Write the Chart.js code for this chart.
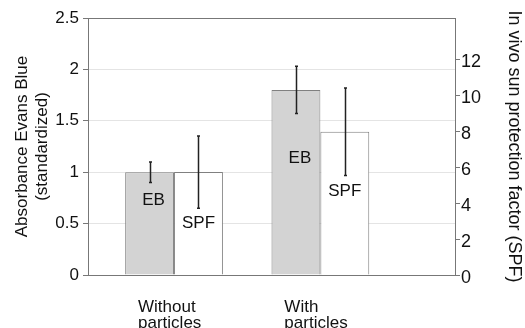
<!DOCTYPE html>
<html>
<head>
<meta charset="utf-8">
<script src="https://cdn.jsdelivr.net/npm/chart.js@4.4.1/dist/chart.umd.min.js"></script>
<style>
  html, body { margin: 0; padding: 0; background: #fff; }
</style>
</head>
<body>
<canvas id="chart" width="525" height="328"></canvas>
<script>
// Data
const groups = [['Without', 'particles'], ['With', 'particles']];
const groupPos = [0, 1];
const ebValues = [1, 1.8];
const ebErrors = [0.1, 0.23];
const spfValues = [5.73, 7.97];
const spfErrors = [2.01, 2.44];
const leftTicks = [0, 0.5, 1, 1.5, 2, 2.5];
const rightTicks = [0, 2, 4, 6, 8, 10, 12];
const ebLabelY = [0.73, 1.135];
const spfLabelY = [2.88, 4.64];

const FONT = "'Liberation Sans', Arial, sans-serif";
const AXIS = '#777';

// error bars + in-bar labels
const barExtras = {
    id: 'barExtras',
    afterDatasetsDraw(chart) {
        const ctx = chart.ctx;
        const sets = [
            { meta: chart.getDatasetMeta(0), vals: ebValues, errs: ebErrors, labY: ebLabelY, text: 'EB', scale: chart.scales.y, dx: 4 },
            { meta: chart.getDatasetMeta(1), vals: spfValues, errs: spfErrors, labY: spfLabelY, text: 'SPF', scale: chart.scales.y1, dx: 0 }
        ];
        ctx.save();
        sets.forEach(s => {
            s.meta.data.forEach((bar, i) => {
                const x = Math.round(bar.x) + 0.5;
                const top = s.scale.getPixelForValue(s.vals[i] + s.errs[i]);
                const bot = s.scale.getPixelForValue(s.vals[i] - s.errs[i]);
                ctx.strokeStyle = '#222';
                ctx.lineWidth = 1.5;
                ctx.beginPath();
                ctx.moveTo(x, top);
                ctx.lineTo(x, bot);
                ctx.moveTo(x - 1.5, top);
                ctx.lineTo(x + 1.5, top);
                ctx.moveTo(x - 1.5, bot);
                ctx.lineTo(x + 1.5, bot);
                ctx.stroke();

                ctx.fillStyle = '#111';
                ctx.font = '17px ' + FONT;
                ctx.textAlign = 'center';
                ctx.textBaseline = 'middle';
                ctx.fillText(s.text, bar.x + s.dx, s.scale.getPixelForValue(s.labY[i]));
            });
        });
        ctx.restore();
    }
};

new Chart(document.getElementById('chart'), {
    type: 'bar',
    data: {
        datasets: [{
            label: 'EB',
            data: groupPos.map((x, i) => ({ x: x, y: ebValues[i] })),
            backgroundColor: '#d3d3d3',
            borderColor: '#808080',
            borderWidth: 1,
            yAxisID: 'y'
        }, {
            label: 'SPF',
            data: groupPos.map((x, i) => ({ x: x, y: spfValues[i] })),
            backgroundColor: '#ffffff',
            borderColor: '#808080',
            borderWidth: 1,
            yAxisID: 'y1'
        }]
    },
    options: {
        responsive: false,
        animation: false,
        categoryPercentage: 0.668,
        barPercentage: 1,
        layout: { padding: { top: 18 } },
        plugins: {
            legend: { display: false },
            tooltip: { enabled: false }
        },
        scales: {
            x: {
                type: 'linear',
                min: -0.588,
                max: 1.92,
                offset: false,
                afterBuildTicks: s => { s.ticks = groupPos.map(v => ({ value: v })); },
                afterFit: s => { s.height = 53; },
                grid: { display: false, drawTicks: false },
                border: { display: true, color: AXIS, width: 1 },
                ticks: {
                    autoSkip: false,
                    maxRotation: 0,
                    align: 'start',
                    labelOffset: -36,
                    padding: 24,
                    color: '#111',
                    font: { family: FONT, size: 17, lineHeight: '16px' },
                    callback: v => groups[groupPos.indexOf(v)]
                }
            },
            y: {
                position: 'left',
                min: 0,
                max: 2.5,
                afterBuildTicks: s => { s.ticks = leftTicks.map(v => ({ value: v })); },
                afterFit: s => { s.width = 88; },
                grid: {
                    color: c => c.tick && c.tick.value === 2.5 ? AXIS : '#e4e4e4',
                    tickColor: AXIS,
                    tickLength: 5
                },
                border: { display: true, color: AXIS, width: 1 },
                ticks: {
                    padding: 4,
                    color: '#111',
                    font: { family: FONT, size: 17 },
                    callback: v => String(v)
                },
                title: {
                    display: true,
                    text: ['Absorbance Evans Blue', '(standardized)'],
                    color: '#111',
                    font: { family: FONT, size: 17 },
                    padding: { top: 12, bottom: 0 }
                }
            },
            y1: {
                position: 'right',
                min: 0,
                max: 14.3,
                afterBuildTicks: s => { s.ticks = rightTicks.map(v => ({ value: v })); },
                afterFit: s => { s.width = 70; },
                grid: { drawOnChartArea: false, color: AXIS, tickColor: AXIS, tickLength: 5 },
                border: { display: true, color: AXIS, width: 1 },
                ticks: {
                    padding: 1,
                    labelOffset: 3,
                    color: '#111',
                    font: { family: FONT, size: 18 }
                },
                title: {
                    display: true,
                    text: 'In vivo sun protection factor (SPF)',
                    color: '#111',
                    font: { family: FONT, size: 18 },
                    padding: { top: 0, bottom: 0 }
                }
            }
        }
    },
    plugins: [barExtras]
});
</script>
</body>
</html>
